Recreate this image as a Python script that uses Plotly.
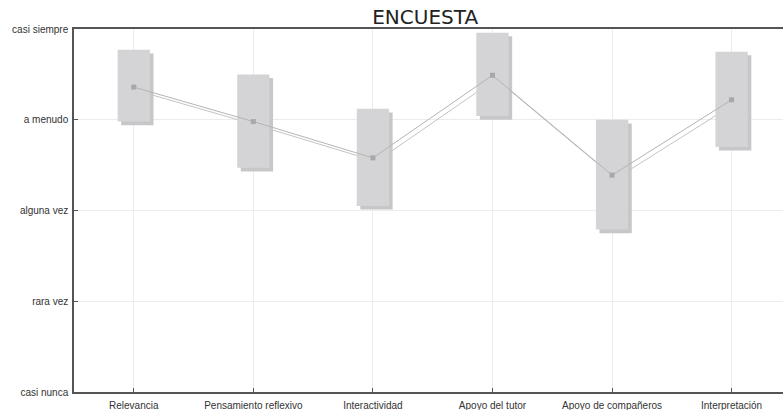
import plotly.graph_objects as go

categories = ["Relevancia", "Pensamiento reflexivo", "Interactividad",
              "Apoyo del tutor", "Apoyo de compañeros", "Interpretación"]
upper = [4.77, 4.50, 4.12, 4.96, 4.00, 4.75]
lower = [3.98, 3.47, 3.05, 4.04, 2.79, 3.70]
mean = [4.36, 3.98, 3.58, 4.49, 3.39, 4.22]
y_tick_vals = [1, 2, 3, 4, 5]
y_tick_text = ["casi nunca", "rara vez", "alguna vez", "a menudo", "casi siempre"]

heights = [u - l for u, l in zip(upper, lower)]

X_RANGE = [-0.5, 5.43]
Y_RANGE = [1, 5]
DX = 0.03   # shadow shift (axis units)
DY = 0.04

fig = go.Figure()

# shadow layer (x2/y2)
fig.add_trace(go.Bar(x=categories, y=heights, base=lower, width=0.27,
                     marker=dict(color="#c7c7c9", line=dict(width=0)),
                     xaxis="x2", yaxis="y2", hoverinfo="skip"))
fig.add_trace(go.Scatter(x=categories, y=mean, mode="lines",
                         line=dict(color="#c4c4c4", width=1),
                         xaxis="x2", yaxis="y2", hoverinfo="skip"))
# main layer (x3/y3)
fig.add_trace(go.Bar(x=categories, y=heights, base=lower, width=0.27,
                     marker=dict(color="#d4d4d6", line=dict(width=0)),
                     xaxis="x3", yaxis="y3"))
fig.add_trace(go.Scatter(x=categories, y=mean, mode="lines+markers",
                         line=dict(color="#b4b4b4", width=1),
                         marker=dict(symbol="square", size=5, color="#a8a8a8"),
                         xaxis="x3", yaxis="y3"))
# base axes carrier
fig.add_trace(go.Scatter(x=categories, y=mean, mode="markers",
                         marker=dict(opacity=0), hoverinfo="skip"))

hidden = dict(visible=False, showgrid=False, zeroline=False)
tick_font = dict(family="Liberation Sans, Arial", size=10, color="#333333")

fig.update_layout(
    width=783, height=410,
    margin=dict(l=74, r=0, t=29, b=18, autoexpand=False),
    paper_bgcolor="white", plot_bgcolor="white",
    showlegend=False,
    barmode="overlay",
    title=dict(text="ENCUESTA", x=0.543, xanchor="center", y=0.958, yanchor="middle",
               font=dict(family="DejaVu Sans", size=20, color="#222222")),
    font=dict(family="Liberation Sans, Arial", size=10, color="#333333"),
    xaxis=dict(type="category", categoryorder="array", categoryarray=categories,
               range=X_RANGE, showgrid=True, gridcolor="#ececec", gridwidth=1,
               showline=True, linecolor="#555555", linewidth=1.5, mirror=True,
               ticks="inside", ticklen=4, tickcolor="#555555",
               ticklabelstandoff=3,
               tickfont=tick_font, automargin=False),
    yaxis=dict(range=Y_RANGE, tickvals=y_tick_vals, ticktext=y_tick_text,
               showgrid=True, gridcolor="#ececec", gridwidth=1, zeroline=False,
               showline=True, linecolor="#555555", linewidth=1.5,
               ticks="inside", ticklen=4, tickcolor="#555555",
               ticklabelstandoff=2,
               tickfont=tick_font, automargin=False),
    xaxis2=dict(type="category", categoryorder="array", categoryarray=categories,
                range=[X_RANGE[0] - DX, X_RANGE[1] - DX], overlaying="x", **hidden),
    yaxis2=dict(range=[Y_RANGE[0] + DY, Y_RANGE[1] + DY], overlaying="y", **hidden),
    xaxis3=dict(type="category", categoryorder="array", categoryarray=categories,
                range=X_RANGE, overlaying="x", **hidden),
    yaxis3=dict(range=Y_RANGE, overlaying="y", **hidden),
)

fig.write_html("out.html", config={"displayModeBar": False},
               post_script="document.body.style.margin='0px';document.body.style.padding='0px';")
